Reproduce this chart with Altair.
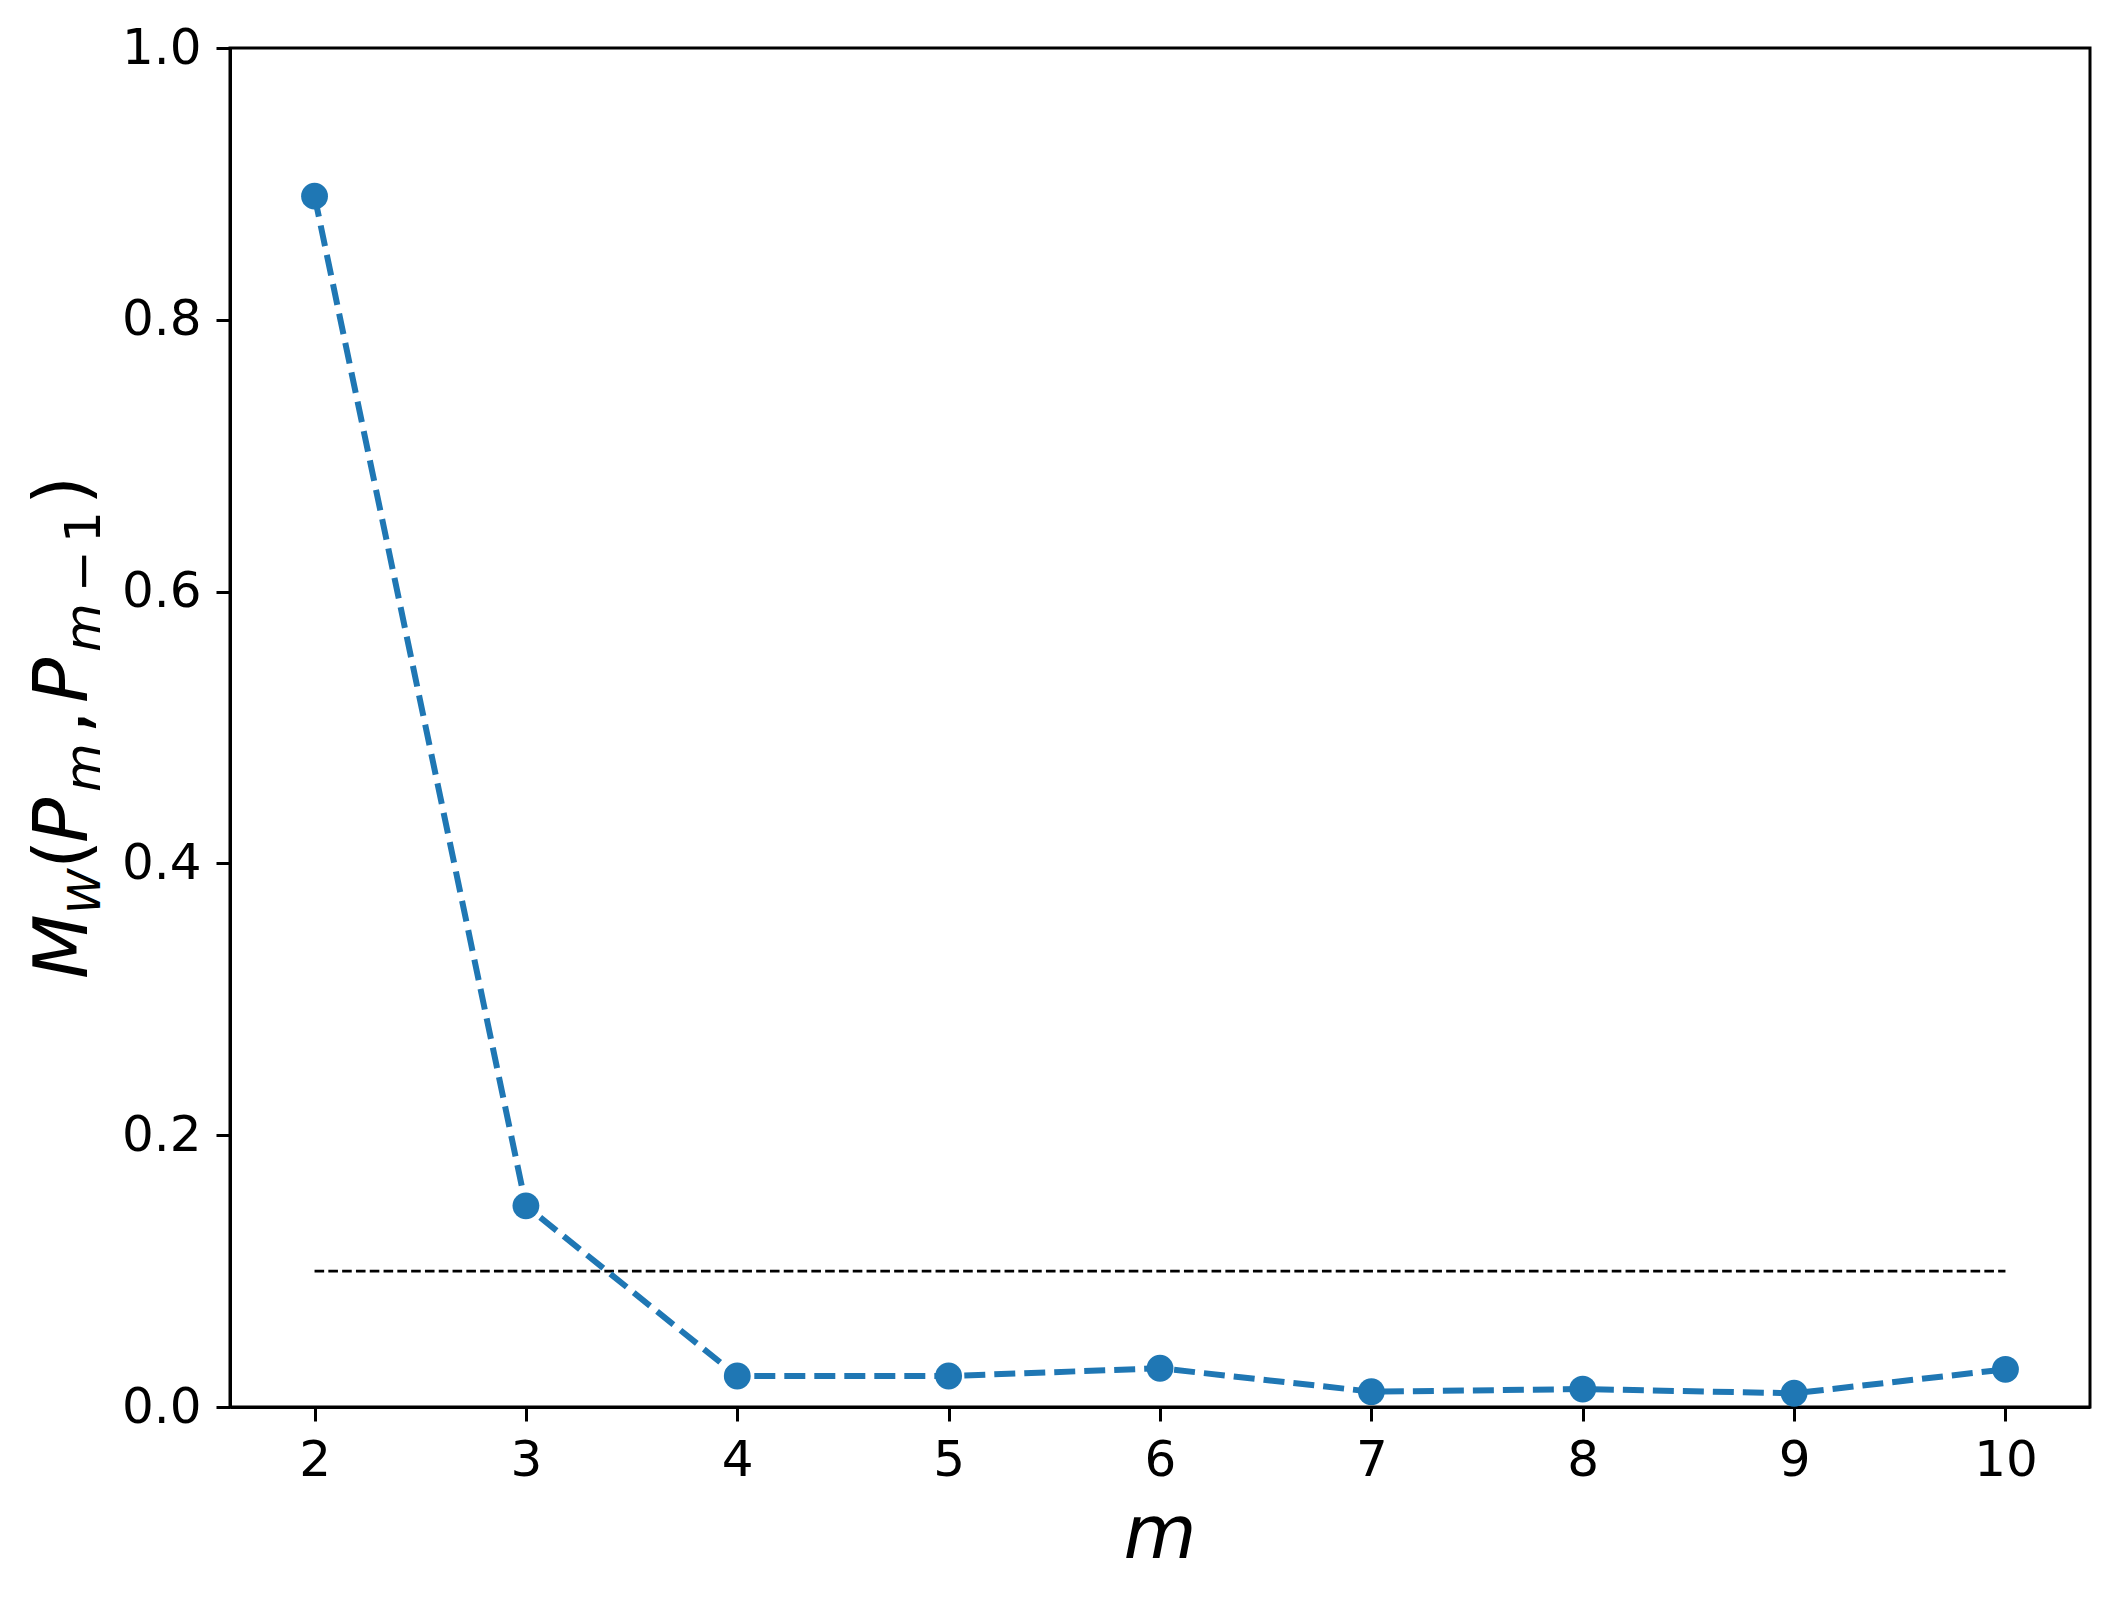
import altair as alt
import pandas as pd

# ---- data ----
m_values = [2, 3, 4, 5, 6, 7, 8, 9, 10]
mw_values = [0.891, 0.148, 0.0228, 0.0228, 0.0285, 0.0113, 0.0132, 0.0101, 0.0277]
threshold_x = [2, 10]
threshold_y = 0.1
x_ticks = [2, 3, 4, 5, 6, 7, 8, 9, 10]
y_ticks = [0.0, 0.2, 0.4, 0.6, 0.8, 1.0]

BLUE = "#1f77b4"
FONT = "DejaVu Sans"
W, H = 1860, 1359

df = pd.DataFrame({"m": m_values, "mw": mw_values})
thr = pd.DataFrame({"x0": [threshold_x[0]], "x1": [threshold_x[1]], "y": [threshold_y]})

xscale = alt.Scale(domain=[1.6, 10.4], nice=False, zero=False)
yscale = alt.Scale(domain=[0, 1], nice=False, zero=False)

xaxis = alt.Axis(values=x_ticks, format="d", grid=False, title="",
                 labelFontSize=50, labelFont=FONT, labelColor="black",
                 tickSize=14, tickWidth=3, tickColor="black",
                 domainColor="black", domainWidth=3, labelPadding=14,
                 labelFlush=False)
yaxis = alt.Axis(values=y_ticks, format=".1f", grid=False, title="",
                 labelFontSize=50, labelFont=FONT, labelColor="black",
                 tickSize=14, tickWidth=3, tickColor="black",
                 domainColor="black", domainWidth=3, labelPadding=15,
                 labelFlush=False)

rule = alt.Chart(thr).mark_rule(color="black", strokeWidth=2.6,
                                strokeDash=[9.6, 4.2]).encode(
    x=alt.X("x0:Q", scale=xscale, axis=xaxis),
    x2="x1:Q",
    y=alt.Y("y:Q", scale=yscale, axis=yaxis),
)

line = alt.Chart(df).mark_line(color=BLUE, strokeWidth=6,
                               strokeDash=[21, 9]).encode(
    x=alt.X("m:Q", scale=xscale, axis=xaxis),
    y=alt.Y("mw:Q", scale=yscale, axis=yaxis),
)

pts = alt.Chart(df).mark_circle(color=BLUE, size=720, opacity=1).encode(
    x=alt.X("m:Q", scale=xscale, axis=xaxis),
    y=alt.Y("mw:Q", scale=yscale, axis=yaxis),
)

# ---- axis titles (mathtext-like, built from text pieces) ----
MAIN = 75
main_x = -143
sub_x = -130
# (text, italic, font size, subscript, anchor y relative to plot top)
ylabel_pieces = [
    ("M", True, 75, False, 931),
    ("W", True, 45, True, 866),
    ("(", False, 75, False, 821),
    ("P", True, 75, False, 795),
    ("m", True, 50, True, 744),
    (",", False, 75, False, 686),
    ("P", True, 75, False, 655),
    ("m", True, 50, True, 604),
    ("\u2212", False, 50, True, 544),
    ("1", False, 50, True, 495),
    (")", False, 75, False, 457),
]

texts = []
for t, ital, fs, sub, ypos in ylabel_pieces:
    texts.append(
        alt.Chart(pd.DataFrame({"t": [t]})).mark_text(
            angle=270, align="left", baseline="alphabetic",
            font=FONT, fontSize=fs,
            fontStyle="italic" if ital else "normal", color="black",
        ).encode(text="t:N", x=alt.value(sub_x if sub else main_x), y=alt.value(ypos))
    )

xlabel = alt.Chart(pd.DataFrame({"t": ["m"]})).mark_text(
    align="center", baseline="alphabetic", font=FONT, fontSize=MAIN,
    fontStyle="italic", color="black",
).encode(text="t:N", x=alt.value(W / 2), y=alt.value(1510))

chart = alt.layer(rule, line, pts, xlabel, *texts).properties(
    width=W, height=H,
    autosize=alt.AutoSizeParams(type="none"),
    padding={"left": 222, "top": 40, "right": 20, "bottom": 190},
    background="white",
).configure_view(stroke="black", strokeWidth=3)

chart.save("out.html", embed_options={"renderer": "svg", "actions": False})
